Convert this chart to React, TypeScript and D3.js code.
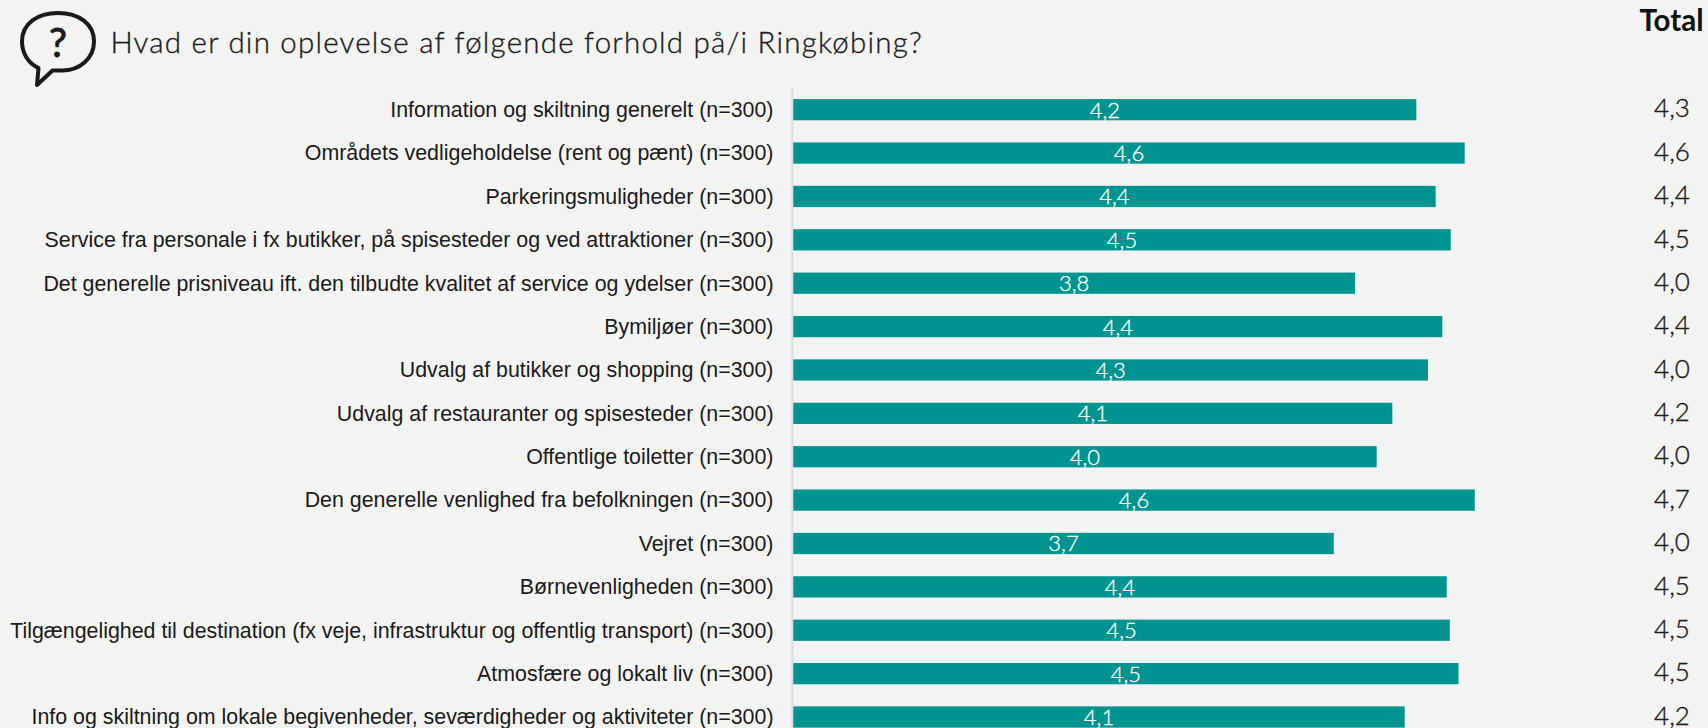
import React from 'react';
import * as d3 from 'd3';

const title = 'Hvad er din oplevelse af følgende forhold på/i Ringkøbing?';
const totalHeader = 'Total';

const categories = [
  'Information og skiltning generelt (n=300)',
  'Områdets vedligeholdelse (rent og pænt) (n=300)',
  'Parkeringsmuligheder (n=300)',
  'Service fra personale i fx butikker, på spisesteder og ved attraktioner (n=300)',
  'Det generelle prisniveau ift. den tilbudte kvalitet af service og ydelser (n=300)',
  'Bymiljøer (n=300)',
  'Udvalg af butikker og shopping (n=300)',
  'Udvalg af restauranter og spisesteder (n=300)',
  'Offentlige toiletter (n=300)',
  'Den generelle venlighed fra befolkningen (n=300)',
  'Vejret (n=300)',
  'Børnevenligheden (n=300)',
  'Tilgængelighed til destination (fx veje, infrastruktur og offentlig transport) (n=300)',
  'Atmosfære og lokalt liv (n=300)',
  'Info og skiltning om lokale begivenheder, seværdigheder og aktiviteter (n=300)',
];

const values = [4.224, 4.552, 4.355, 4.457, 3.808, 4.4, 4.303, 4.061, 3.955, 4.62, 3.664, 4.43, 4.451, 4.51, 4.145];
const totals = [4.3, 4.6, 4.4, 4.5, 4.0, 4.4, 4.0, 4.2, 4.0, 4.7, 4.0, 4.5, 4.5, 4.5, 4.2];

const width = 1708;
const height = 728;
const bg = '#f3f3f3';
const teal = '#009490';
const ink = '#1a1a1a';
const futura = 'Lato, "Noto Sans", sans-serif';

const x = d3.scaleLinear().domain([0, 5]).range([793.3, 1530.8]);
const y = d3.scaleBand<number>()
  .domain(d3.range(categories.length))
  .range([88, 738.7])
  .paddingInner(0.51)
  .paddingOuter(0.255);

const fmt = (v: number) => d3.format('.1f')(v).replace('.', ',');

export default function App() {
  const x0 = x(0);
  return (
    <svg
      width={width}
      height={height}
      viewBox={`0 0 ${width} ${height}`}
      style={{ position: 'fixed', left: 0, top: 0, background: bg }}
    >
      {/* question icon */}
      <path
        d="M38.5 68 C28 63 22 53 22 41.5 C22 23 38 13 58 13 C79 13 94 24 94 41.5 C94 58 80 70.5 62 70.5 L52.5 70.5 L37 85 Z"
        fill="none"
        stroke={ink}
        strokeWidth={4}
        strokeLinejoin="round"
      />
      <text x={58} y={56.5} textAnchor="middle" fontFamily={futura} fontWeight={400} fontSize={40} fill={ink} stroke={ink} strokeWidth={0.9}>?</text>

      <text x={110.5} y={53.3} fontFamily={futura} fontWeight={300} fontSize={29.5} letterSpacing={1.22} fill={ink} stroke={ink} strokeWidth={0.35}>{title}</text>
      <text x={1703.5} y={30.7} textAnchor="end" fontFamily={futura} fontWeight={700} fontSize={29.5} fill="#111">{totalHeader}</text>

      <line x1={x0 - 1} x2={x0 - 1} y1={88} y2={height} stroke="#dcdcdc" strokeWidth={2} />

      {categories.map((c, i) => {
        const yc = y(i)! + y.bandwidth() / 2;
        return (
          <g key={c}>
            <text x={773.5} y={yc} dy={7.3} textAnchor="end" fontFamily='"Liberation Sans", Arial, sans-serif' fontSize={21.38} fill={ink}>{c}</text>
            <rect x={x0} y={y(i)} width={x(values[i]) - x0} height={y.bandwidth()} fill={teal} />
            <text x={(x0 + x(values[i])) / 2} y={yc} dy={8} textAnchor="middle" fontFamily={futura} fontWeight={300} fontSize={22} fill="#fff" stroke="#fff" strokeWidth={0.3}>{fmt(values[i])}</text>
            <text x={1672} y={yc} dy={7.7} textAnchor="middle" fontFamily={futura} fontWeight={300} fontSize={26} fill={ink} stroke={ink} strokeWidth={0.35}>{fmt(totals[i])}</text>
          </g>
        );
      })}
    </svg>
  );
}
